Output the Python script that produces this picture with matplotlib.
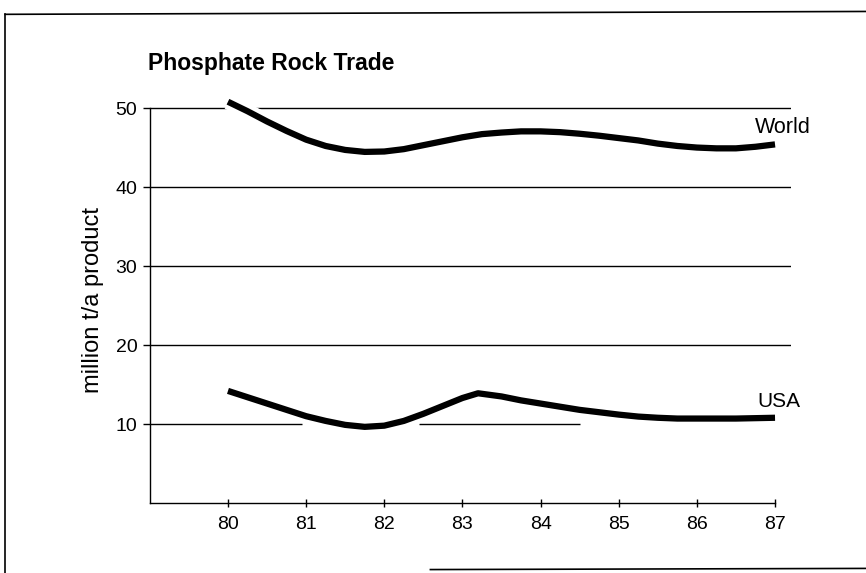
import matplotlib
matplotlib.use("Agg")
import matplotlib.pyplot as plt
import matplotlib.patheffects as pe

plt.rcParams['font.family'] = ['Liberation Sans', 'DejaVu Sans']

world_years = [80, 80.25, 80.5, 80.75, 81, 81.25, 81.5, 81.75, 82, 82.25, 82.5, 82.75, 83, 83.25,
               83.5, 83.75, 84, 84.25, 84.5, 84.75, 85, 85.25, 85.5, 85.75, 86, 86.25, 86.5, 86.75, 87]
world = [50.8, 49.6, 48.3, 47.1, 46.0, 45.2, 44.7, 44.45, 44.5, 44.8, 45.3, 45.8, 46.3, 46.7,
         46.9, 47.05, 47.05, 46.95, 46.75, 46.5, 46.2, 45.9, 45.5, 45.2, 45.0, 44.9, 44.9, 45.1, 45.4]
usa_years = [80, 80.25, 80.5, 80.75, 81, 81.25, 81.5, 81.75, 82, 82.25, 82.5, 82.75, 83, 83.2,
             83.5, 83.75, 84, 84.25, 84.5, 84.75, 85, 85.25, 85.5, 85.75, 86, 86.5, 87]
usa = [14.2, 13.4, 12.6, 11.8, 11.0, 10.4, 9.9, 9.65, 9.8, 10.4, 11.3, 12.3, 13.3, 13.9,
       13.5, 13.0, 12.6, 12.2, 11.8, 11.5, 11.2, 10.95, 10.8, 10.7, 10.7, 10.7, 10.8]
x_ticks = [80, 81, 82, 83, 84, 85, 86, 87]
y_ticks = [10, 20, 30, 40, 50]

fig = plt.figure(figsize=(8.66, 5.73), dpi=100)
ax = fig.add_axes([0.173, 0.122, 0.740, 0.717])
ax.set_xlim(79.0, 87.2)
ax.set_ylim(0, 52)

# grid lines
for y in y_ticks:
    if y == 10:
        ax.hlines(y, 79.0, 80.95, color='black', lw=1.0, zorder=1)
        ax.hlines(y, 82.45, 84.5, color='black', lw=1.0, zorder=1)
    else:
        ax.hlines(y, 79.0, 87.2, color='black', lw=1.0, zorder=1)

stroke = [pe.Stroke(linewidth=11, foreground='white'), pe.Normal()]
ax.plot(world_years, world, color='black', lw=4.5, solid_capstyle='butt',
        solid_joinstyle='round', zorder=3, path_effects=stroke)
ax.plot(usa_years, usa, color='black', lw=4.5, solid_capstyle='butt',
        solid_joinstyle='round', zorder=3, path_effects=stroke)

ax.text(87.1, 47.6, 'World', fontsize=15.5, ha='center', va='center')
ax.text(87.05, 12.9, 'USA', fontsize=15, ha='center', va='center')

for s in ['top', 'right']:
    ax.spines[s].set_visible(False)
ax.spines['bottom'].set_bounds(79.0, 87.0)
ax.spines['left'].set_bounds(0, 50)
ax.spines['left'].set_linewidth(1.0)
ax.spines['bottom'].set_linewidth(1.0)
ax.set_xticks(x_ticks)
ax.set_xticklabels([str(v) for v in x_ticks], fontsize=14)
ax.set_yticks(y_ticks)
ax.set_yticklabels([str(v) for v in y_ticks], fontsize=14)
ax.tick_params(axis='x', direction='inout', length=6, width=1, pad=6)
ax.tick_params(axis='y', direction='out', length=5, width=1, pad=4)
ax.set_ylabel('million t/a product', fontsize=17)
ax.yaxis.set_label_coords(-0.072, 0.494)

fig.text(0.171, 0.890, 'Phosphate Rock Trade', fontsize=16.5, fontweight='bold', ha='left', va='center')

# outer frame (scan border)
fig.add_artist(plt.Line2D([0.006, 0.006], [0.0, 0.975], color='black', lw=1.2, transform=fig.transFigure))
fig.add_artist(plt.Line2D([0.006, 1.0], [0.975, 0.980], color='black', lw=1.2, transform=fig.transFigure))
fig.add_artist(plt.Line2D([0.497, 1.0], [0.006, 0.008], color='black', lw=1.2, transform=fig.transFigure))

fig.savefig('out.png', dpi=100)
